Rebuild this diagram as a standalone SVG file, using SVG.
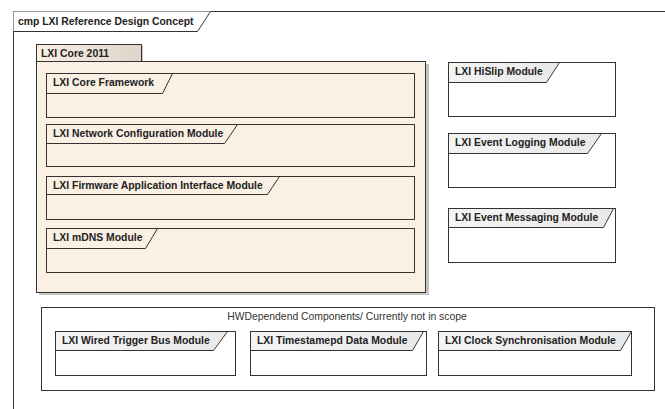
<svg xmlns="http://www.w3.org/2000/svg" width="665" height="409" viewBox="0 0 665 409">
<defs>
<linearGradient id="gTabGray" x1="0" y1="0" x2="1" y2="0">
<stop offset="0" stop-color="#f4f4f4"/>
<stop offset="1" stop-color="#e9e9e9"/>
</linearGradient>
<linearGradient id="gPkgTab" x1="0" y1="0" x2="1" y2="0">
<stop offset="0" stop-color="#faf0e4"/>
<stop offset="1" stop-color="#ddd5ca"/>
</linearGradient>
</defs>
<style>
.ln{stroke:#333;stroke-width:1;fill:none}
.beige{fill:#faf0e4;stroke:#333;stroke-width:1}
.white{fill:#ffffff;stroke:#333;stroke-width:1}
.tabB{fill:#faf0e4;stroke:none}
.tabG{fill:url(#gTabGray);stroke:none}
.shadow{fill:#c4c4c4}
.t{font-family:"Liberation Sans",Arial,sans-serif;font-size:10.4px;font-weight:bold;fill:#222}
.tn{font-family:"Liberation Sans",Arial,sans-serif;font-size:10.4px;fill:#333}
</style>
<rect x="0" y="0" width="665" height="409" fill="#ffffff"/>

<g id="frame">
<path class="ln" d="M13.5,409 V11.5 H665"/>
<path d="M13.5,11.5 H210.5 L197.5,31.5 H13.5 Z" fill="#ffffff"/>
<path class="ln" d="M13.5,31.5 H197.5 L210.5,11.5"/>
<text class="t" x="18" y="25">cmp LXI Reference Design Concept</text>
</g>

<g id="lxi-core-2011">
<rect class="shadow" x="39" y="64" width="390" height="231"/>
<rect class="shadow" x="139" y="46" width="4" height="18"/>
<rect x="36.5" y="44.5" width="105" height="17" fill="url(#gPkgTab)" stroke="#333" stroke-width="1"/>
<rect class="beige" x="36.5" y="61.5" width="389" height="231"/>
<text class="t" x="41" y="57">LXI Core 2011</text>
</g>

<g id="lxi-core-framework">
<rect class="beige" x="46.5" y="73.5" width="368" height="44"/>
<path class="ln" d="M46.5,93.5 H162.5 L172.5,73.5"/>
<text class="t" x="53" y="86">LXI Core Framework</text>
</g>

<g id="lxi-network-configuration-module">
<rect class="beige" x="46.5" y="124.5" width="368" height="42"/>
<path class="ln" d="M46.5,143.5 H224.5 L237.5,124.5"/>
<text class="t" x="53" y="137">LXI Network Configuration Module</text>
</g>

<g id="lxi-firmware-application-interface-module">
<rect class="beige" x="46.5" y="176.5" width="368" height="43"/>
<path class="ln" d="M46.5,194.5 H267.5 L279.5,176.5"/>
<text class="t" x="53" y="189">LXI Firmware Application Interface Module</text>
</g>

<g id="lxi-mdns-module">
<rect class="beige" x="46.5" y="228.5" width="368" height="44"/>
<path class="ln" d="M46.5,248.5 H145.5 L157.5,228.5"/>
<text class="t" x="53" y="241">LXI mDNS Module</text>
</g>

<g id="lxi-hislip-module">
<rect class="white" x="448.5" y="62.5" width="167" height="54"/>
<path class="tabG" d="M449,63 H559 L546,82 H449 Z"/>
<path class="ln" d="M448.5,82.5 H546.5 L559.5,62.5"/>
<text class="t" x="455" y="75">LXI HiSlip Module</text>
</g>

<g id="lxi-event-logging-module">
<rect class="white" x="448.5" y="133.5" width="167" height="54"/>
<path class="tabG" d="M449,134 H601 L587,153 H449 Z"/>
<path class="ln" d="M448.5,153.5 H587.5 L601.5,133.5"/>
<text class="t" x="455" y="146">LXI Event Logging Module</text>
</g>

<g id="lxi-event-messaging-module">
<rect class="white" x="448.5" y="208.5" width="167" height="54"/>
<path class="tabG" d="M449,209 H613 L603,227 H449 Z"/>
<path class="ln" d="M448.5,227.5 H603.5 L613.5,208.5"/>
<text class="t" x="455" y="221">LXI Event Messaging Module</text>
</g>

<g id="hw-dependend-components">
<rect class="white" x="41.5" y="307.5" width="613" height="83"/>
<text class="tn" x="347" y="320" text-anchor="middle">HWDependend Components/ Currently not in scope</text>
</g>

<g id="lxi-wired-trigger-bus-module">
<rect class="white" x="55.5" y="331.5" width="180" height="44"/>
<path class="tabG" d="M56,332 H227 L213,350 H56 Z"/>
<path class="ln" d="M55.5,350.5 H213.5 L227.5,331.5"/>
<text class="t" x="62" y="344">LXI Wired Trigger Bus Module</text>
</g>

<g id="lxi-timestamepd-data-module">
<rect class="white" x="250.5" y="331.5" width="176" height="44"/>
<path class="tabG" d="M251,332 H423 L412,350 H251 Z"/>
<path class="ln" d="M250.5,350.5 H412.5 L423.5,331.5"/>
<text class="t" x="257" y="344">LXI Timestamepd Data Module</text>
</g>

<g id="lxi-clock-synchronisation-module">
<rect class="white" x="438.5" y="331.5" width="193" height="44"/>
<path class="tabG" d="M439,332 H631 L620,350 H439 Z"/>
<path class="ln" d="M438.5,350.5 H620.5 L631.5,331.5"/>
<text class="t" x="445" y="344">LXI Clock Synchronisation Module</text>
</g>

<g id="connectors"/>
</svg>
